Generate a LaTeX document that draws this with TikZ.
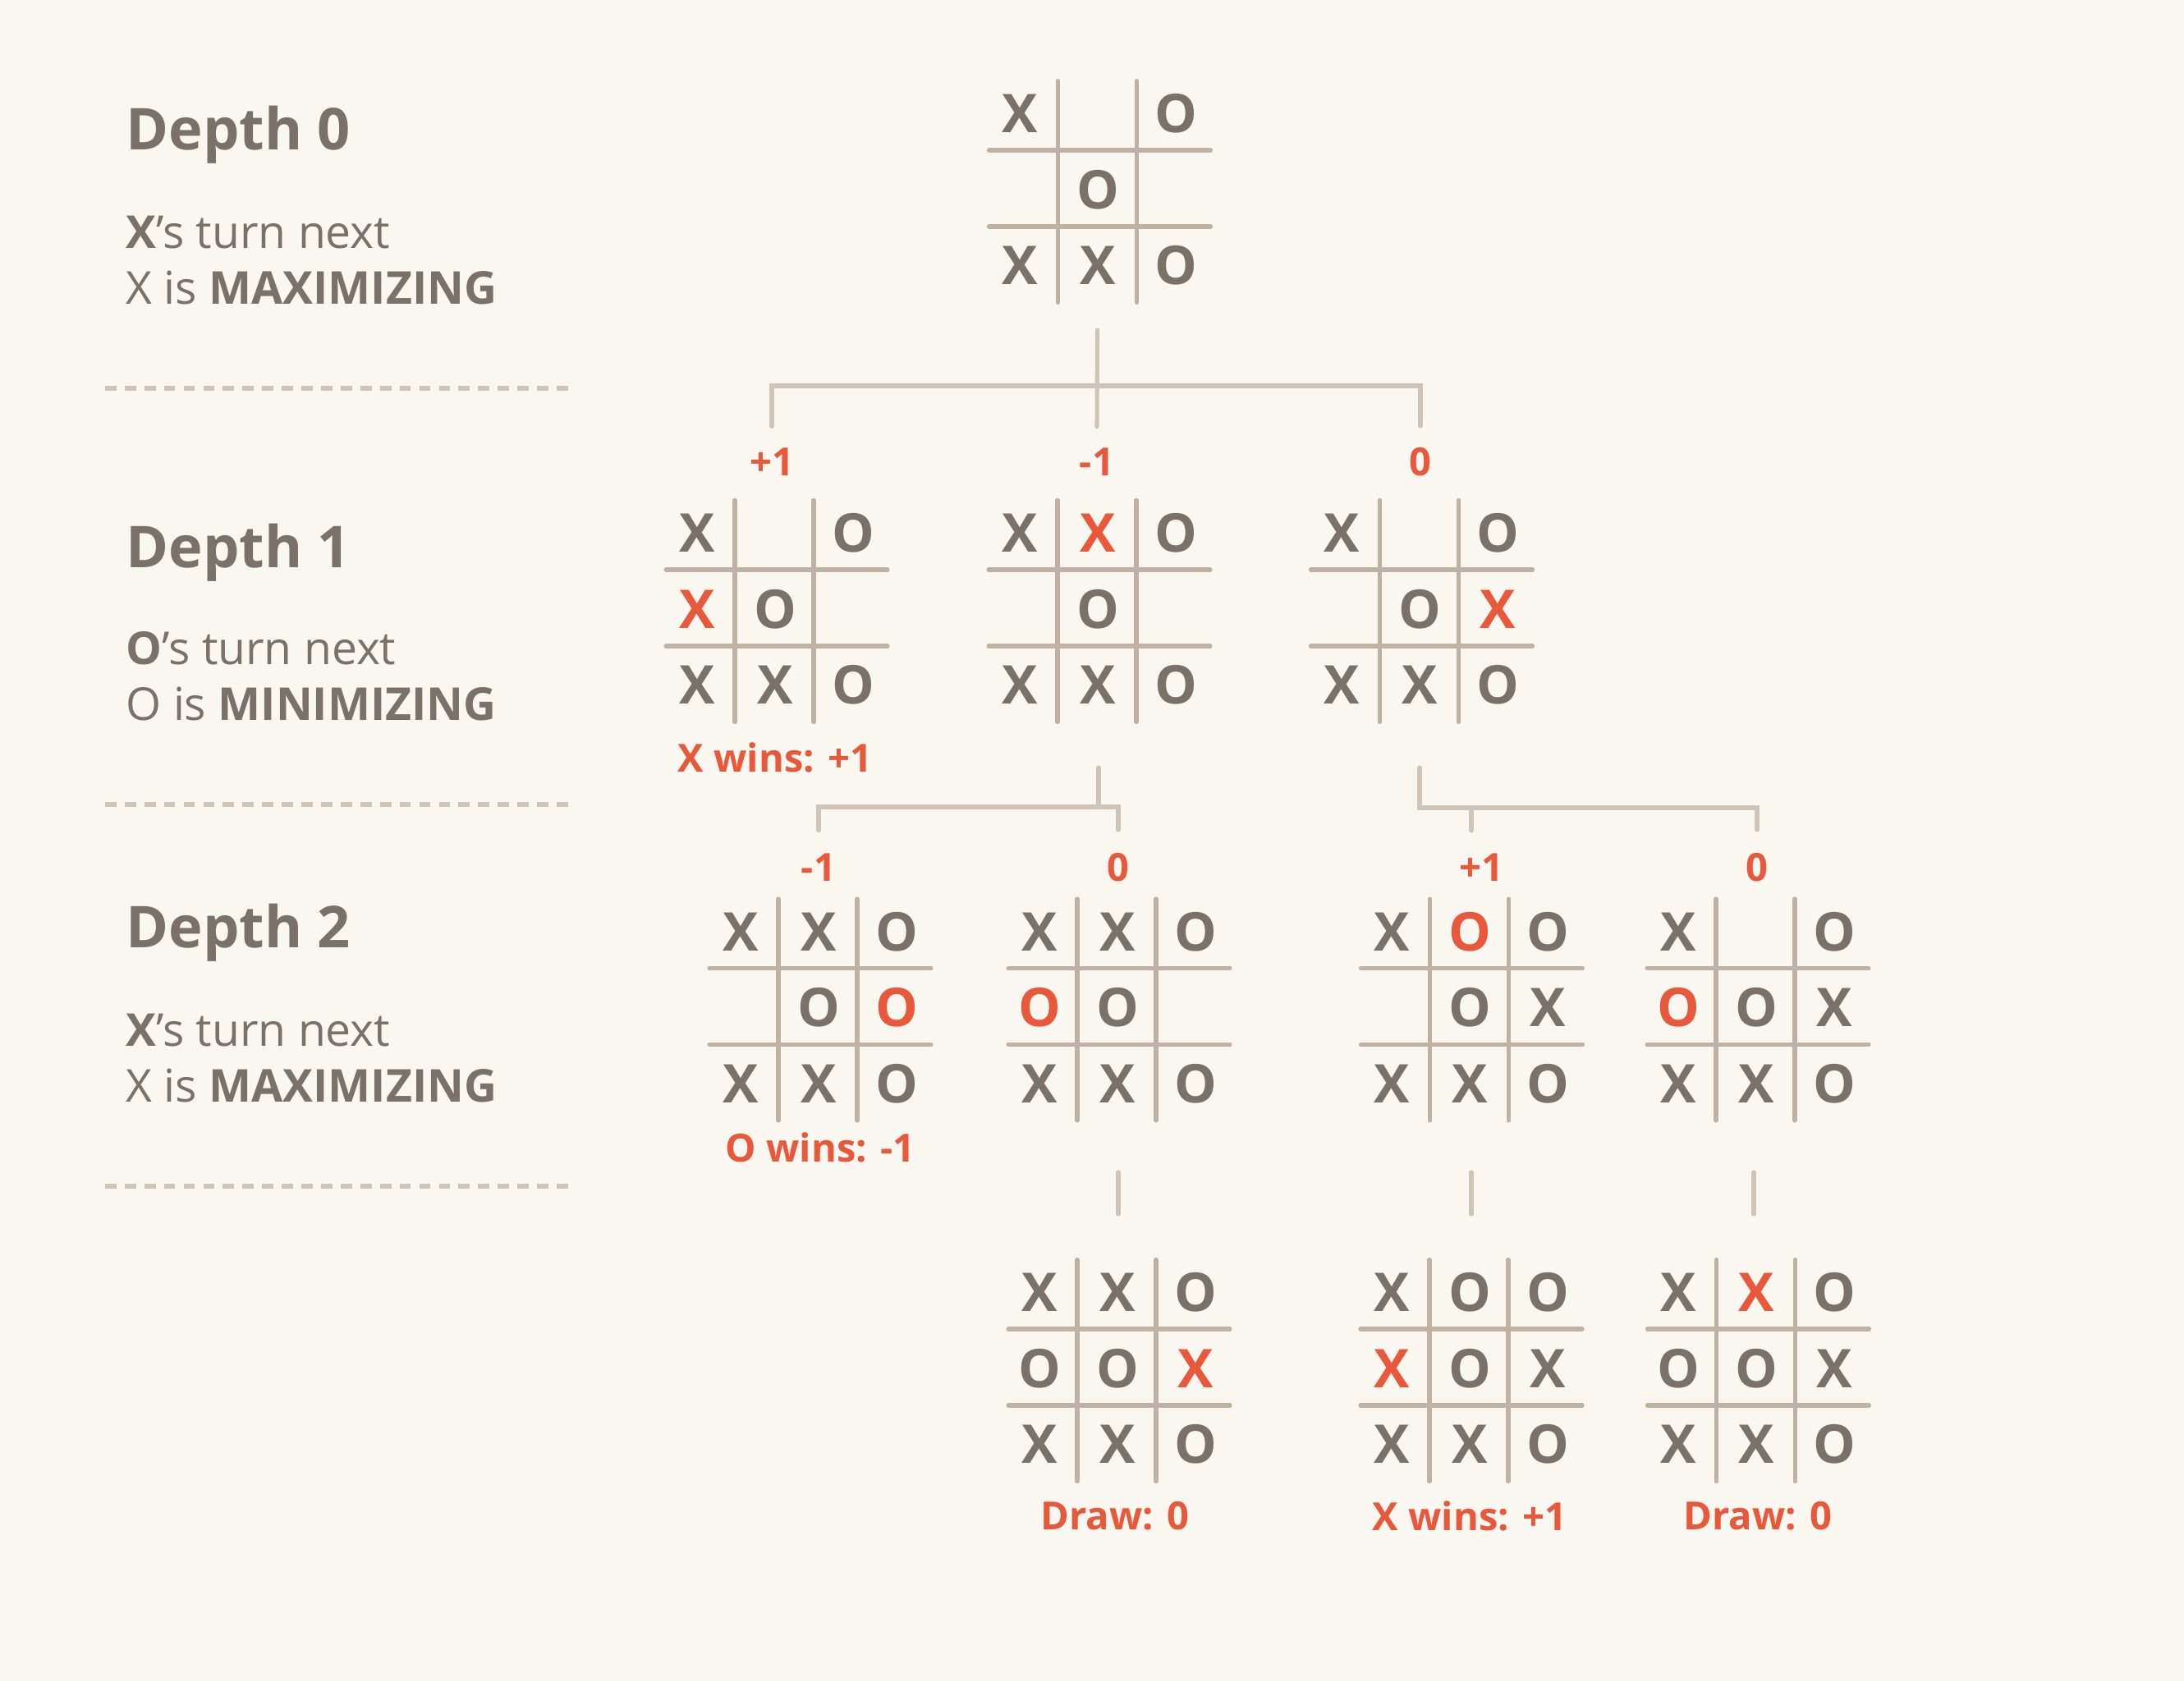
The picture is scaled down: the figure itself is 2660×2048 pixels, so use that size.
\documentclass[tikz,border=0pt]{standalone}
\usepackage{fontspec}
\setmainfont{Open Sans}
\usetikzlibrary{calc}

\definecolor{paper}{HTML}{FAF7F1}
\definecolor{ink}{HTML}{7A7168}
\definecolor{accent}{HTML}{E8583A}
\definecolor{gridc}{HTML}{BFB1A4}
\definecolor{linkc}{HTML}{CFC4B8}

\newcommand{\hl}[1]{\textcolor{accent}{#1}}
\def\cellempty{.}

% one board: #1 = centre coordinate, #2 = nine cells (. = empty)
\newcommand{\tttboard}[2]{%
  \draw[gridline] ($(#1)+(-48,-131)$) -- ($(#1)+(-48,139)$);
  \draw[gridline] ($(#1)+(48,-131)$) -- ($(#1)+(48,139)$);
  \draw[gridline] ($(#1)+(-132,-46.5)$) -- ($(#1)+(138,-46.5)$);
  \draw[gridline] ($(#1)+(-132,46.5)$) -- ($(#1)+(138,46.5)$);
  \foreach \s [count=\k from 0] in {#2} {
    \ifx\s\cellempty\else
      \pgfmathtruncatemacro{\cellrow}{\k/3}
      \pgfmathsetmacro{\celldx}{-94+95*(\k-3*\cellrow)}
      \pgfmathsetmacro{\celldy}{-91+92.5*\cellrow}
      \node[cellmark] (#1-\k) at ($(#1)+(\celldx,\celldy)$) {\s};
    \fi
  }
}

\begin{document}
\begin{tikzpicture}[x=0.01cm, y=-0.01cm,
    gridline/.style={draw=gridc, line width=1.45pt, line cap=round},
    link/.style={draw=linkc, line width=1.45pt, line cap=round},
    sep/.style={draw=linkc, line width=1.45pt, dash pattern=on 3.9pt off 2.9pt},
    cellmark/.style={inner sep=0pt, text=ink, font=\fontsize{18.5}{22}\selectfont\bfseries},
    title/.style={anchor=base west, inner sep=0pt, text=ink, font=\fontsize{20}{24}\selectfont\bfseries},
    note/.style={anchor=base west, inner sep=0pt, text=ink, font=\fontsize{15.7}{19}\selectfont},
    score/.style={inner sep=0pt, text=accent, font=\fontsize{13.4}{16}\selectfont\bfseries}]

  \fill[paper] (0,0) rectangle (2660,2048);
  \useasboundingbox (0,0) rectangle (2660,2048);

  % left column
  \node[title] (t0) at (153,182) {Depth 0};
  \node[note] (n0a) at (153,302) {\textbf{X}’s turn next};
  \node[note] (n0b) at (153,370) {X is \textbf{MAXIMIZING}};
  \draw[sep] (128,473) -- (698,473);

  \node[title] (t1) at (153,691) {Depth 1};
  \node[note] (n1a) at (153,809) {\textbf{O}’s turn next};
  \node[note] (n1b) at (153,877) {O is \textbf{MINIMIZING}};
  \draw[sep] (128,980) -- (698,980);

  \node[title] (t2) at (153,1154) {Depth 2};
  \node[note] (n2a) at (153,1274) {\textbf{X}’s turn next};
  \node[note] (n2b) at (153,1342) {X is \textbf{MAXIMIZING}};
  \draw[sep] (128,1445) -- (698,1445);

  % board centres
  \coordinate (b0) at (1336.5,229.5);
  \coordinate (b1l) at (943,740.5);
  \coordinate (b1m) at (1336,740.5);
  \coordinate (b1r) at (1728.5,740.5);
  \coordinate (b2a) at (996,1226);
  \coordinate (b2b) at (1360,1226);
  \coordinate (b2c) at (1789.5,1226);
  \coordinate (b2d) at (2138,1226);
  \coordinate (b3b) at (1360,1665.5);
  \coordinate (b3c) at (1789,1665.5);
  \coordinate (b3d) at (2138.5,1665.5);

  \tttboard{b0}{X,.,O,.,O,.,X,X,O}
  \tttboard{b1l}{X,.,O,\hl{X},O,.,X,X,O}
  \tttboard{b1m}{X,\hl{X},O,.,O,.,X,X,O}
  \tttboard{b1r}{X,.,O,.,O,\hl{X},X,X,O}
  \tttboard{b2a}{X,X,O,.,O,\hl{O},X,X,O}
  \tttboard{b2b}{X,X,O,\hl{O},O,.,X,X,O}
  \tttboard{b2c}{X,\hl{O},O,.,O,X,X,X,O}
  \tttboard{b2d}{X,.,O,\hl{O},O,X,X,X,O}
  \tttboard{b3b}{X,X,O,O,O,\hl{X},X,X,O}
  \tttboard{b3c}{X,O,O,\hl{X},O,X,X,X,O}
  \tttboard{b3d}{X,\hl{X},O,O,O,X,X,X,O}

  % scores
  \node[score] (v1l) at (940,563) {+1};
  \node[score] (v1m) at (1336,563) {-1};
  \node[score] (v1r) at (1730,563) {0};
  \node[score] (v2a) at (997,1057) {-1};
  \node[score] (v2b) at (1362,1057) {0};
  \node[score] (v2c) at (1804,1057) {+1};
  \node[score] (v2d) at (2140,1057) {0};

  \node[score] (r1l) at (944,923) {X wins: +1};
  \node[score] (r2a) at (999,1398) {O wins: -1};
  \node[score] (r3b) at (1358,1847) {Draw: 0};
  \node[score] (r3c) at (1790,1847) {X wins: +1};
  \node[score] (r3d) at (2141,1847) {Draw: 0};

  % tree connectors
  \coordinate (j0) at (1336,470);
  \coordinate (j1m) at (1338,983);
  \coordinate (j1r) at (1729,984);
  \coordinate (d2c) at (1792,1012);

  \draw[link] ($(b0)+(0,172.5)$) -- ($(v1m.north)+(0,-26)$);
  \draw[link] ($(v1l.north)+(0,-26)$) |- (j0) -| ($(v1r.north)+(0,-26)$);

  \draw[link] ($(b1m)+(2,194.5)$) -- (j1m);
  \draw[link] ($(v2a.north)+(0,-28)$) |- (j1m) -| ($(v2b.north)+(0,-28)$);

  \draw[link] ($(b1r)+(0.5,194.5)$) -- (j1r) -| ($(v2d.north)+(0,-28)$);
  \draw[link] (d2c) -- (d2c |- j1r);

  \draw[link] ($(b2b)+(2,202)$) -- ($(b3b)+(2,-186.5)$);
  \draw[link] ($(b2c)+(2.5,202)$) -- ($(b3c)+(3,-186.5)$);
  \draw[link] ($(b2d)+(-2,202)$) -- ($(b3d)+(-2.5,-186.5)$);

\end{tikzpicture}
\end{document}
